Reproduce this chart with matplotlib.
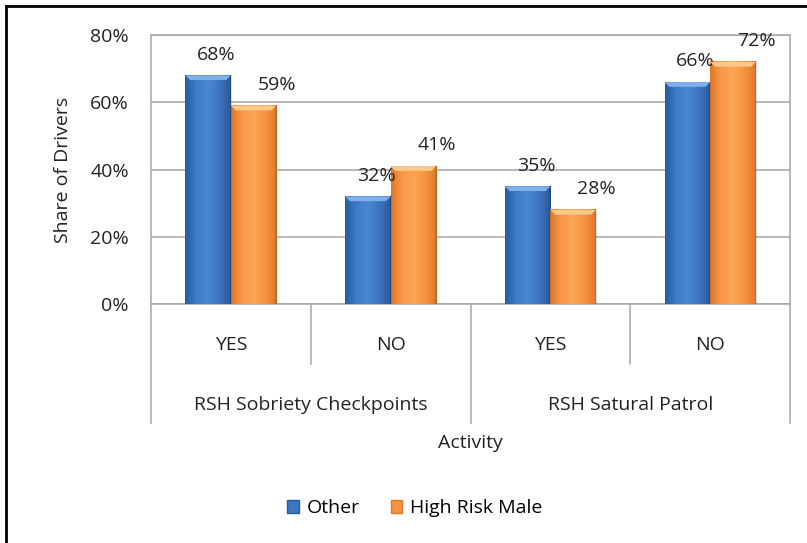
import numpy as np
import matplotlib.pyplot as plt
from matplotlib.colors import LinearSegmentedColormap
from matplotlib.patches import Patch
from matplotlib.lines import Line2D
import matplotlib.transforms as mtransforms

plt.rcParams['font.family'] = ['Open Sans', 'DejaVu Sans']
FS = 14

# Survey answers per activity
groups = ['RSH Sobriety Checkpoints', 'RSH Satural Patrol']
answers = ['YES', 'NO', 'YES', 'NO']
other = [68, 32, 35, 66]
high_risk_male = [59, 41, 28, 72]
yticks = [0, 20, 40, 60, 80]

fig = plt.figure(figsize=(8.07, 5.43), dpi=100)
ax = fig.add_axes([0.1871, 0.4401, 0.7919, 0.4954])

# outer frame (only left and top edges fall inside the image)
fig.add_artist(Line2D([0.0075, 0.0075], [0, 0.989], color='black', lw=2.0,
                      transform=fig.transFigure))
fig.add_artist(Line2D([0.0075, 1], [0.989, 0.989], color='black', lw=2.0,
                      transform=fig.transFigure))

blue_cmap = LinearSegmentedColormap.from_list(
    'blue', ['#2a5c9c', '#3f7cc9', '#4a88d4', '#3b75c0', '#2a5a98'])
orange_cmap = LinearSegmentedColormap.from_list(
    'orange', ['#e0792a', '#f99a48', '#fca554', '#f5943f', '#df7a2c'])
grad = np.linspace(0, 1, 64).reshape(1, -1)

width = 0.285
x = np.arange(len(answers))


def draw_bars(xs, vals, cmap, cap_color):
    for xc, v in zip(xs, vals):
        x0, x1 = xc - width / 2, xc + width / 2
        ax.imshow(grad, cmap=cmap, aspect='auto', extent=(x0, x1, 0, v),
                  zorder=3, interpolation='bilinear')
        # bevelled top edge
        dx, dy = 0.03, 1.4
        ax.fill([x0, x1, x1 - dx, x0 + dx], [v, v, v - dy, v - dy],
                color=cap_color, zorder=4, lw=0)
        ax.plot([x1, x1], [0, v], color='#000000', alpha=0.15, lw=1.2,
                zorder=4)


draw_bars(x - width / 2, other, blue_cmap, '#7fb0ea')
draw_bars(x + width / 2, high_risk_male, orange_cmap, '#fdc88a')

for xc, v in zip(x - width / 2, other):
    ax.annotate(f'{v}%', (xc, v), xytext=(6, 15), textcoords='offset points',
                ha='center', va='center', fontsize=FS, color='#222222')
for xc, v in zip(x + width / 2, high_risk_male):
    ax.annotate(f'{v}%', (xc, v), xytext=(17, 15), textcoords='offset points',
                ha='center', va='center', fontsize=FS, color='#222222')

ax.set_xlim(-0.5, 3.5)
ax.set_ylim(0, 80)
ax.set_yticks(yticks)
ax.set_yticklabels([f'{t}%' for t in yticks], fontsize=FS, color='#222222')
ax.tick_params(axis='y', length=0, pad=16)
ax.set_xticks([])
ax.grid(axis='y', color='#a6a6a6', lw=1.1, zorder=0)
ax.set_axisbelow(True)
for s in ax.spines.values():
    s.set_color('#a6a6a6')
    s.set_linewidth(1.1)
ax.set_ylabel('Share of Drivers', fontsize=FS, color='#222222', labelpad=13)

# two-level category axis below the plot
trans = mtransforms.blended_transform_factory(ax.transData, ax.transAxes)
for b in [0.5, 2.5]:
    ax.plot([b, b], [0, -0.223], color='#a6a6a6', lw=1.1, transform=trans,
            clip_on=False)
for b in [-0.5, 1.5, 3.5]:
    ax.plot([b, b], [0, -0.442], color='#a6a6a6', lw=1.1, transform=trans,
            clip_on=False)
for xc, a in zip(x, answers):
    ax.text(xc, -0.152, a, transform=trans, ha='center', va='center',
            fontsize=FS, color='#222222')
for i, g in enumerate(groups):
    ax.text(2 * i + 0.5, -0.375, g, transform=trans, ha='center',
            va='center', fontsize=FS, color='#222222')
ax.text(0.5, -0.517, 'Activity', transform=ax.transAxes, ha='center',
        va='center', fontsize=FS, color='#222222')

handles = [Patch(facecolor='#3a78c6', edgecolor='#2a5c9c', label='Other'),
           Patch(facecolor='#f5943f', edgecolor='#df7a2c',
                 label='High Risk Male')]
fig.legend(handles=handles, loc='center', bbox_to_anchor=(0.514, 0.064),
           ncol=2, frameon=False, fontsize=FS, handlelength=0.6,
           handleheight=0.6, handletextpad=0.4, columnspacing=1.6)

fig.savefig('out.png', dpi=100)
